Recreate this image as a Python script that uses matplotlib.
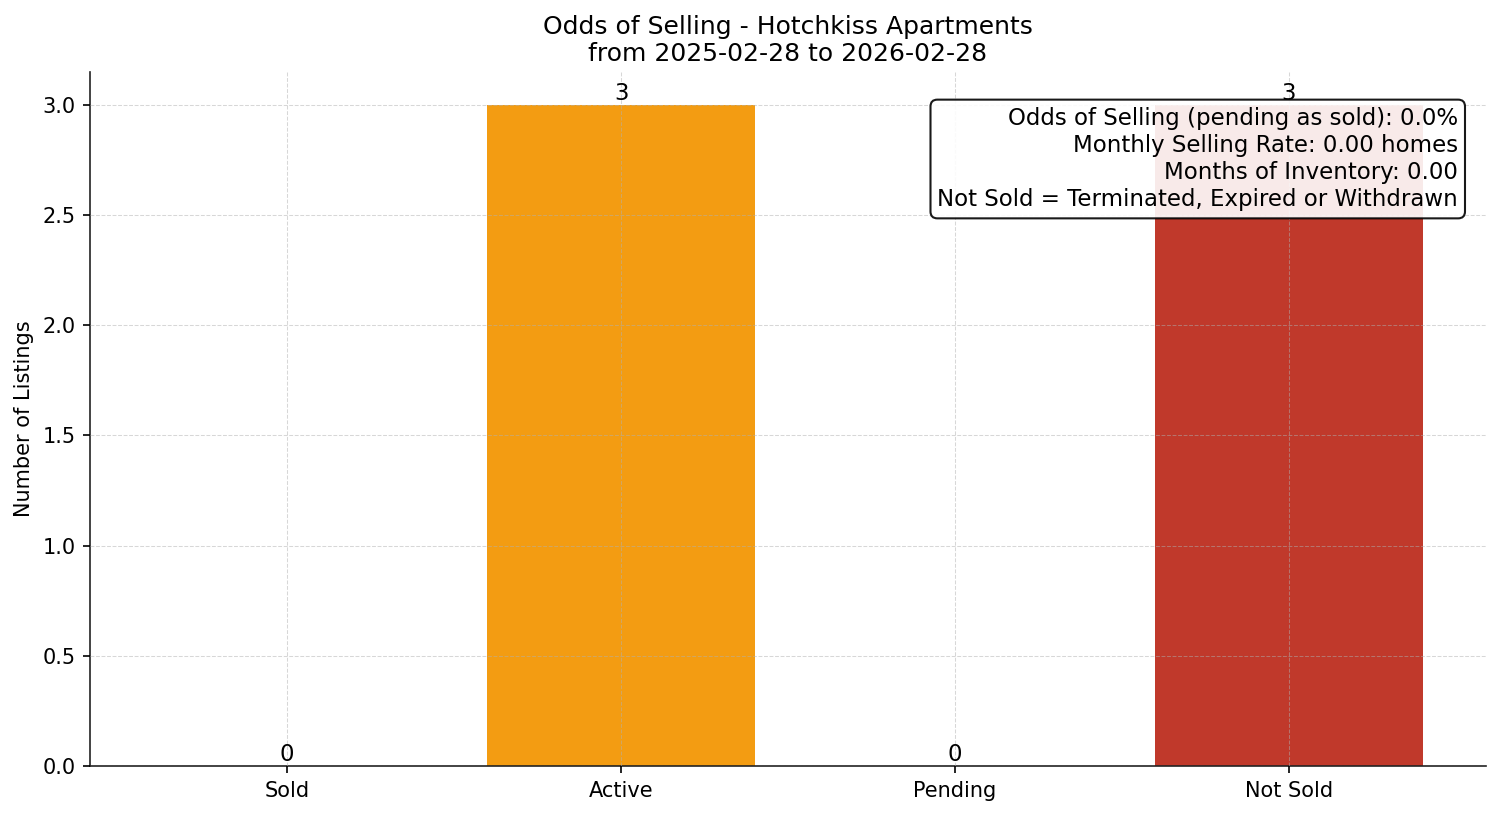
import matplotlib
matplotlib.use("Agg")
import matplotlib.pyplot as plt

categories = ["Sold", "Active", "Pending", "Not Sold"]
counts = [0, 3, 0, 3]
colors = ["#27AE60", "#F39C12", "#3498DB", "#C0392B"]
title_lines = ["Odds of Selling - Hotchkiss Apartments", "from 2025-02-28 to 2026-02-28"]
info_lines = [
    "Odds of Selling (pending as sold): 0.0%",
    "Monthly Selling Rate: 0.00 homes",
    "Months of Inventory: 0.00",
    "Not Sold = Terminated, Expired or Withdrawn",
]

fig, ax = plt.subplots(figsize=(10.007, 5.44), dpi=150)
fig.subplots_adjust(left=0.060, right=0.990, top=0.912, bottom=0.0613)
bars = ax.bar(categories, counts, color=colors, width=0.8)
for b, v in zip(bars, counts):
    ax.text(b.get_x() + b.get_width() / 2, v, str(v), ha="center", va="bottom", fontsize=11)

ax.set_ylabel("Number of Listings", fontsize=10)
ax.set_title("\n".join(title_lines), fontsize=12, pad=5)
ax.grid(True, linestyle="--", linewidth=0.5, alpha=0.5, color="#b0b0b0")
ax.set_axisbelow(False)
for s in ["top", "right"]:
    ax.spines[s].set_visible(False)
for s in ["left", "bottom"]:
    ax.spines[s].set_color("#222222")
ax.tick_params(labelsize=10)

ax.text(0.98, 0.95, "\n".join(info_lines), transform=ax.transAxes, ha="right", va="top",
        fontsize=11, linespacing=1.24,
        bbox=dict(boxstyle="round,pad=0.3", facecolor="white", alpha=0.9, edgecolor="black"))

fig.savefig("out.png", dpi=150)
